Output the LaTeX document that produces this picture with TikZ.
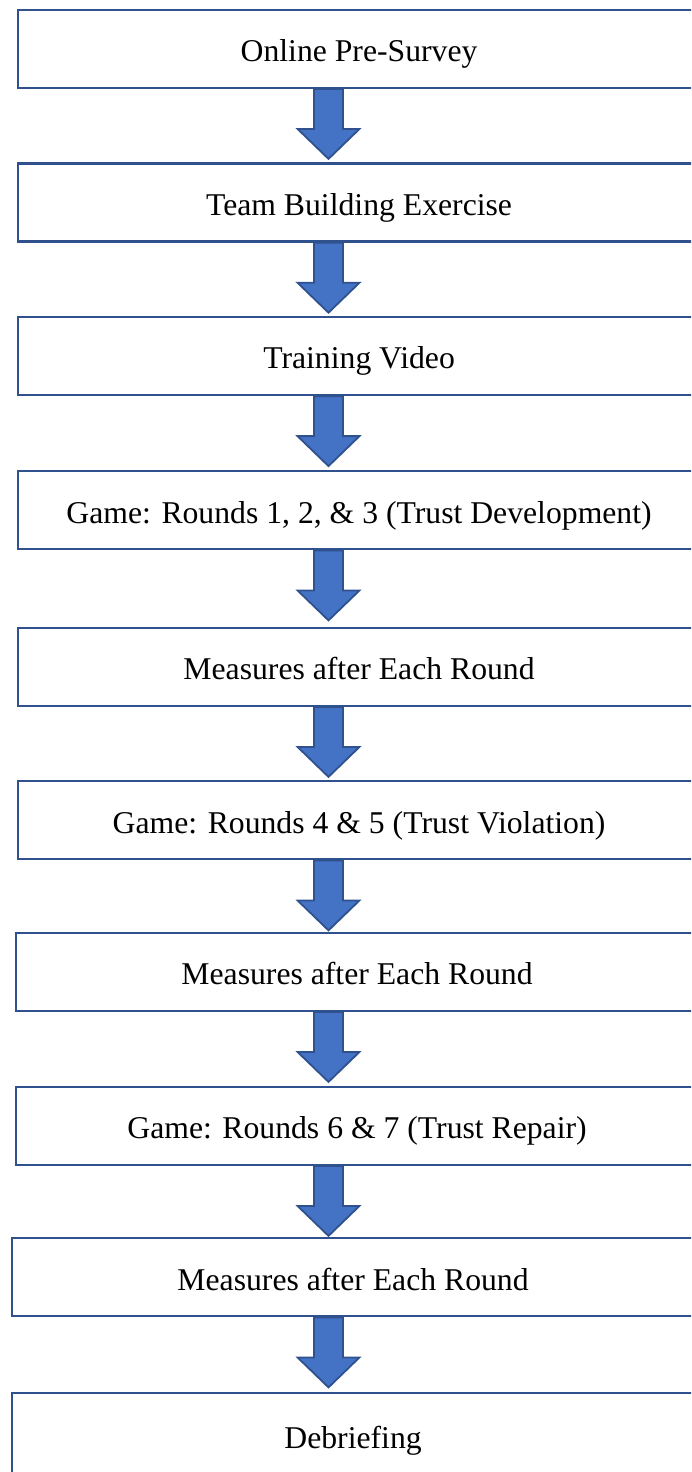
\documentclass[tikz,border=0pt]{standalone}
\usepackage{fontspec}
\setmainfont{Liberation Serif}
\usetikzlibrary{calc}

\definecolor{edgeblue}{HTML}{2F528F}
\definecolor{fillblue}{HTML}{4472C4}

\tikzset{
  stagebox/.style={draw=edgeblue, line width=1.2pt, fill=white, rectangle,
    anchor=north west, inner sep=0pt, minimum width=341.15pt,
    minimum height=39pt, text height=26pt, text depth=13pt,
    font=\fontsize{15.85}{19}\selectfont},
  flowarrow/.style={draw=edgeblue, line width=0.9pt, fill=fillblue, line join=miter}
}

% block arrow hanging below a box, shaft centred at x = 164.25pt
\newcommand\downarrowfrom[1]{%
  \draw[flowarrow] let \p1=(#1.south) in
    (157pt,\y1) -- (171.5pt,\y1) -- (171.5pt,\y1-20pt) -- (179.75pt,\y1-20pt)
    -- (164.25pt,\y1-35pt) -- (148.75pt,\y1-20pt) -- (157pt,\y1-20pt) -- cycle;}

\begin{document}
\begin{tikzpicture}[x=0.5pt, y=-0.5pt]
  \useasboundingbox (0,0) rectangle (691,1472);
  \clip (0,0) rectangle (691,1472);

  \node[stagebox] (b1)  at (16.7,8.5)    {Online Pre-Survey};
  \node[stagebox] (b2)  at (16.7,162.3)  {Team Building Exercise};
  \node[stagebox] (b3)  at (16.7,315.7)  {Training Video};
  \node[stagebox] (b4)  at (16.7,470)    {Game: Rounds 1, 2, \& 3 (Trust Development)};
  \node[stagebox] (b5)  at (16.7,626.5)  {Measures after Each Round};
  \node[stagebox] (b6)  at (16.7,780)    {Game: Rounds 4 \& 5 (Trust Violation)};
  \node[stagebox] (b7)  at (14.7,931.5)  {Measures after Each Round};
  \node[stagebox] (b8)  at (14.7,1085.5) {Game: Rounds 6 \& 7 (Trust Repair)};
  \node[stagebox] (b9)  at (10.7,1237)   {Measures after Each Round};
  \node[stagebox, minimum height=43pt, text height=27.5pt, text depth=15.5pt] (b10) at (10.7,1392) {Debriefing};

  \foreach \bx in {b1,b2,b3,b4,b5,b6,b7,b8,b9} {\downarrowfrom{\bx}}
\end{tikzpicture}
\end{document}
